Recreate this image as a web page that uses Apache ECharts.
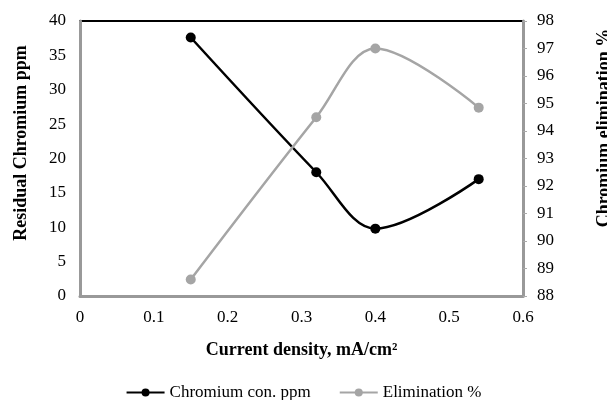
<!doctype html>
<html lang="en">
<head>
    <meta charset="utf-8">
    <title>Chromium removal</title>
    <script src="https://cdn.jsdelivr.net/npm/echarts@6/dist/echarts.min.js"></script>
    <style>
        html, body { margin: 0; padding: 0; background: #fff; }
        #chart { width: 607px; height: 400px; }
    </style>
</head>
<body>
    <div id="chart"></div>
    <script>
        // current density, mA/cm2
        let density = [0.15, 0.32, 0.4, 0.54];
        // residual chromium, ppm (left axis)
        let chromium = [37.6, 18.0, 9.8, 17.0];
        // chromium elimination, % (right axis)
        let elimination = [88.6, 94.5, 97.0, 94.85];

        let font = 'Liberation Serif';

        function pairs(xs, ys) {
            return xs.map(function (x, i) { return [x, ys[i]]; });
        }

        let myChart = echarts.init(document.getElementById('chart'));
        let option = {
            animation: false,
            textStyle: { fontFamily: font },
            grid: {
                left: 80, right: 84, top: 21, bottom: 104,
                outerBoundsMode: 'none',
                show: true, borderColor: '#000', borderWidth: 2
            },
            // y axis titles sit a bit above the middle of the plot, as in the original
            graphic: [{
                type: 'text',
                x: 21, y: 143,
                rotation: Math.PI / 2,
                style: {
                    text: 'Residual Chromium ppm',
                    font: 'bold 18px "Liberation Serif"',
                    fill: '#000',
                    align: 'center',
                    verticalAlign: 'middle'
                }
            }, {
                type: 'text',
                x: 604, y: 128,
                rotation: Math.PI / 2,
                style: {
                    text: 'Chromium elimination %',
                    font: 'bold 18px "Liberation Serif"',
                    fill: '#000',
                    align: 'center',
                    verticalAlign: 'middle'
                }
            }],
            legend: {
                top: 379,
                left: 'center',
                itemGap: 28,
                itemWidth: 38,
                itemHeight: 10,
                textStyle: { fontFamily: font, fontSize: 17, color: '#000' },
                data: ['Chromium con. ppm', 'Elimination %']
            },
            xAxis: {
                type: 'value',
                min: 0, max: 0.6, interval: 0.1,
                axisLine: { lineStyle: { color: '#999', width: 3 } },
                axisTick: { show: false },
                splitLine: { show: false },
                axisLabel: { color: '#000', fontSize: 17, margin: 13, fontFamily: font },
                name: 'Current density, mA/cm²',
                nameLocation: 'middle',
                nameGap: 45,
                nameTextStyle: { color: '#000', fontSize: 18, fontWeight: 'bold', fontFamily: font }
            },
            yAxis: [{
                type: 'value',
                min: 0, max: 40, interval: 5,
                axisLine: { show: true, lineStyle: { color: '#999', width: 3 } },
                axisTick: { show: false },
                splitLine: { show: false },
                axisLabel: { color: '#000', fontSize: 17, margin: 14, fontFamily: font }
            }, {
                type: 'value',
                min: 88, max: 98, interval: 1,
                position: 'right',
                axisLine: { show: true, lineStyle: { color: '#999', width: 3 } },
                axisTick: { show: true, length: 4, lineStyle: { color: '#aaa' } },
                splitLine: { show: false },
                axisLabel: { color: '#000', fontSize: 17, margin: 14, fontFamily: font }
            }],
            series: [{
                name: 'Chromium con. ppm',
                type: 'line',
                yAxisIndex: 0,
                smooth: 0.35,
                symbol: 'circle',
                symbolSize: 10,
                itemStyle: { color: '#000' },
                lineStyle: { color: '#000', width: 2.5 },
                data: pairs(density, chromium)
            }, {
                name: 'Elimination %',
                type: 'line',
                yAxisIndex: 1,
                smooth: 0.35,
                symbol: 'circle',
                symbolSize: 10,
                itemStyle: { color: '#a5a5a5' },
                lineStyle: { color: '#a5a5a5', width: 2.5 },
                data: pairs(density, elimination)
            }]
        };
        myChart.setOption(option);
    </script>
</body>
</html>
